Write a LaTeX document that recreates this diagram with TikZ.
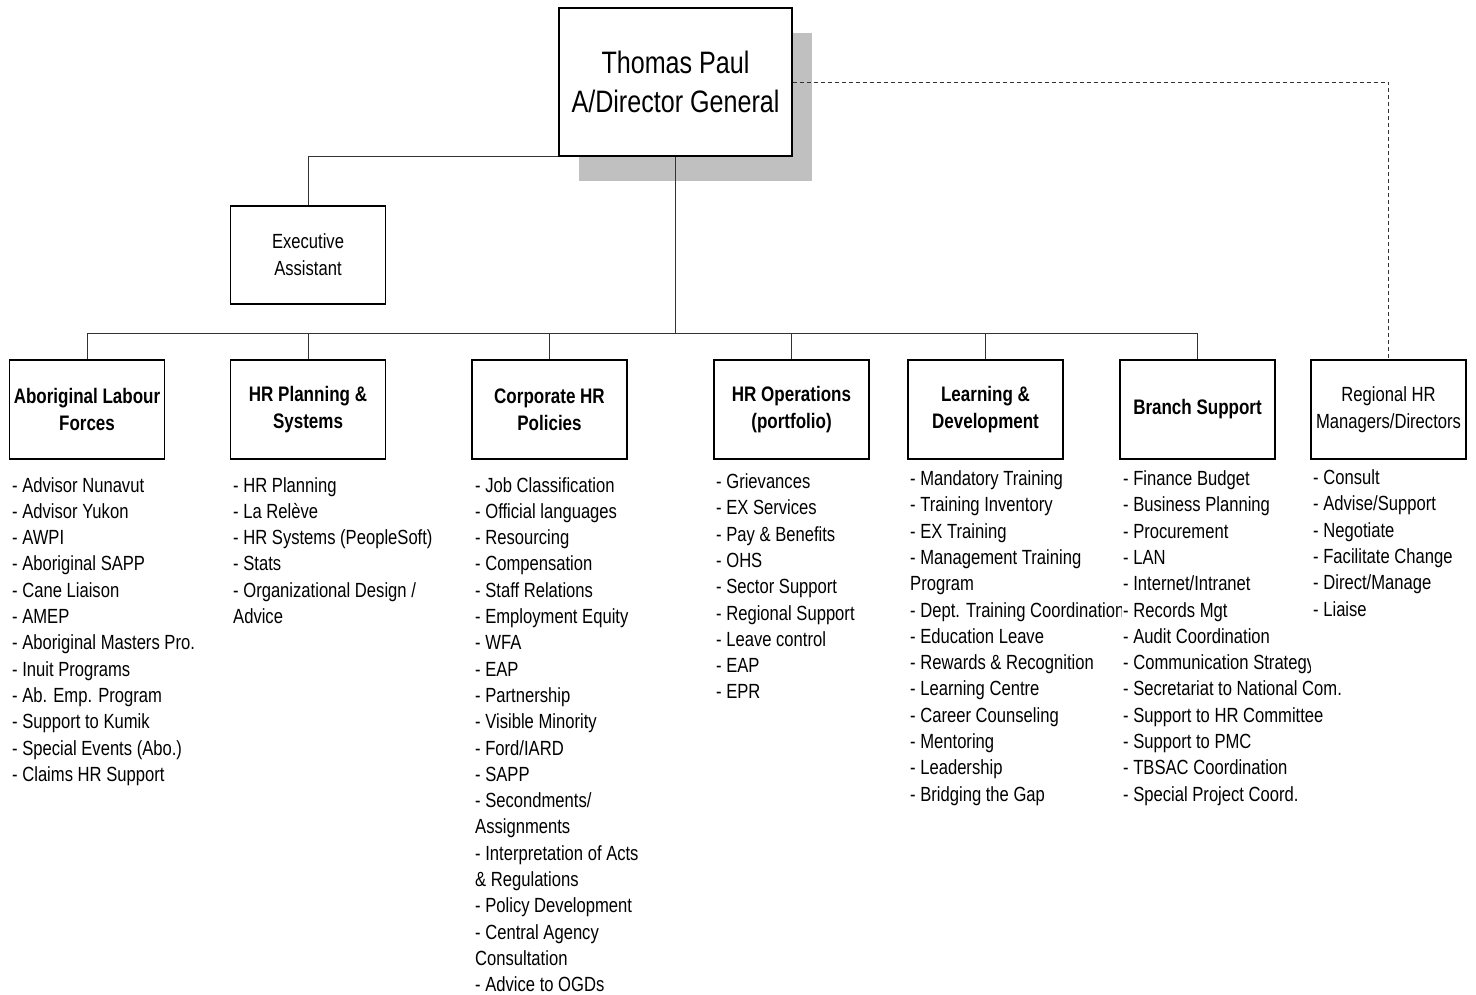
\documentclass[tikz,border=0pt]{standalone}
\usepackage{fontspec}
\setmainfont{Liberation Sans}[FakeStretch=0.81]
\definecolor{shadowgray}{RGB}{192,192,192}
\begin{document}
\begin{tikzpicture}[x=1pt,y=-1pt,
  box/.style={draw, line width=1.1pt, minimum width=155pt, minimum height=99pt, inner sep=0pt, align=center, fill=white},
  head/.style={font=\fontsize{21}{27}\selectfont\bfseries},
  plainhead/.style={font=\fontsize{20.5}{27}\selectfont},
  list/.style={anchor=north west, inner sep=0pt, align=left, font=\fontsize{20.5}{26.3}\selectfont},
  link/.style={line width=0.9pt, draw=black!80},
  dotlink/.style={line width=0.9pt, draw=black!80, dash pattern=on 4pt off 3pt}]
\useasboundingbox (0,0) rectangle (1476,995);

% Director General with shadow
\fill[shadowgray] (579,33) rectangle (812,181);
\node[draw, line width=1.1pt, fill=white, minimum width=233pt, minimum height=148pt, inner sep=0pt, align=center, font=\fontsize{31}{39}\selectfont] (dg) at (675.5,82) {Thomas Paul\\A/Director General};

% Executive assistant
\node[box, minimum height=98pt, plainhead] (ea) at (308,255) {Executive\\Assistant};

% Branch boxes
\node[box, head] (alf) at (87,409.5) {Aboriginal Labour\\Forces};
\node[box, head] (hrp) at (308,409.5) {HR Planning \&\\Systems};
\node[box, head] (chr) at (549.5,409.5) {Corporate HR\\Policies};
\node[box, head] (hro) at (791.5,409.5) {HR Operations\\(portfolio)};
\node[box, head] (ld) at (985.5,409.5) {Learning \&\\Development};
\node[box, head] (bs) at (1197.5,409.5) {Branch Support};
\node[box, plainhead] (reg) at (1388.5,409.5) {Regional HR\\Managers/Directors};

% Connectors
\coordinate (bus) at (675.5,334);
\draw[link] (dg.south) -- (bus);
\draw[link] (alf.north) -- ++(0,-26) -| (bs.north);
\foreach \n in {hrp,chr,hro,ld} \draw[link] (\n.north) -- (\n.north |- bus);
\draw[link] (dg.south west) -| (ea.north);
\draw[dotlink] (dg.east) -| (reg.north);

% Lists
\node[list] (l1) at (12,477) {- Advisor Nunavut\\- Advisor Yukon\\- AWPI\\- Aboriginal SAPP\\- Cane Liaison\\- AMEP\\- Aboriginal Masters Pro.\\- Inuit Programs\\- Ab. Emp. Program\\- Support to Kumik\\- Special Events (Abo.)\\- Claims HR Support};
\node[list] (l2) at (233,477) {- HR Planning\\- La Relève\\- HR Systems (PeopleSoft)\\- Stats\\- Organizational Design /\\Advice};
\node[list] (l3) at (475,477) {- Job Classification\\- Official languages\\- Resourcing\\- Compensation\\- Staff Relations\\- Employment Equity\\- WFA\\- EAP\\- Partnership\\- Visible Minority\\- Ford/IARD\\- SAPP\\- Secondments/\\Assignments\\- Interpretation of Acts\\\& Regulations\\- Policy Development\\- Central Agency\\Consultation\\- Advice to OGDs};
\node[list] (l4) at (716,473.5) {- Grievances\\- EX Services\\- Pay \& Benefits\\- OHS\\- Sector Support\\- Regional Support\\- Leave control\\- EAP\\- EPR};
\begin{scope}
\clip (900,460) rectangle (1121,820);
\node[list] (l5) at (910,470.5) {- Mandatory Training\\- Training Inventory\\- EX Training\\- Management Training\\Program\\- Dept. Training Coordination\\- Education Leave\\- Rewards \& Recognition\\- Learning Centre\\- Career Counseling\\- Mentoring\\- Leadership\\- Bridging the Gap};
\end{scope}
\begin{scope}
\clip (1118,460) -- (1310,460) -- (1310,675) -- (1476,675) -- (1476,820) -- (1118,820) -- cycle;
\node[list] (l6) at (1123,470.5) {- Finance Budget\\- Business Planning\\- Procurement\\- LAN\\- Internet/Intranet\\- Records Mgt\\- Audit Coordination\\- Communication Strategy\\- Secretariat to National Com.\\- Support to HR Committee\\- Support to PMC\\- TBSAC Coordination\\- Special Project Coord.};
\end{scope}
\node[list] (l7) at (1313,469.5) {- Consult\\- Advise/Support\\- Negotiate\\- Facilitate Change\\- Direct/Manage\\- Liaise};
\end{tikzpicture}
\end{document}
